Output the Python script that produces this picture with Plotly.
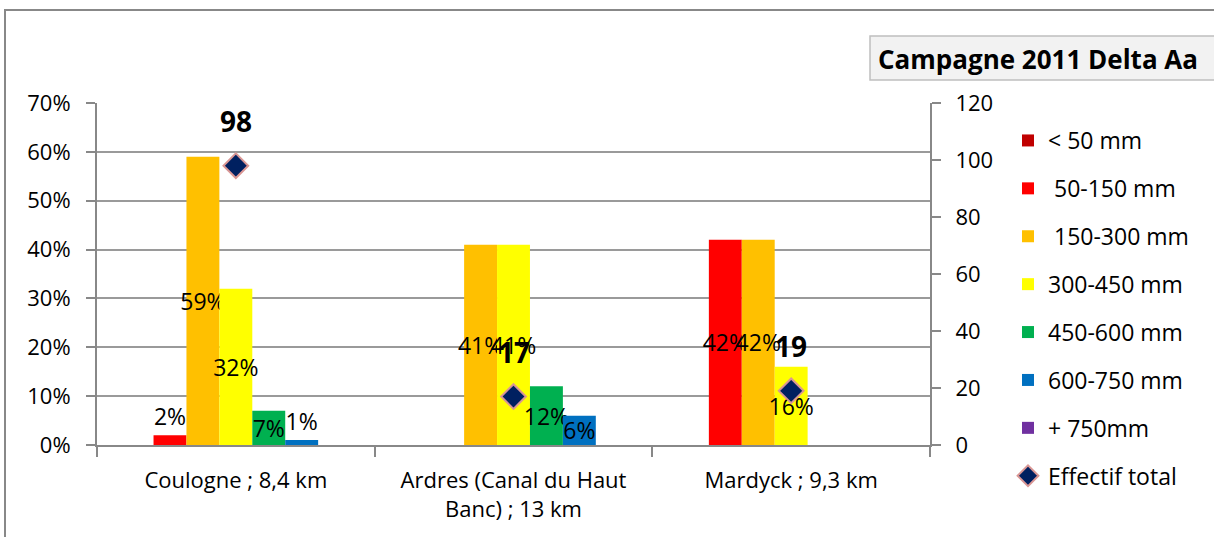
import plotly.graph_objects as go

categories = ["Coulogne ; 8,4 km", "Ardres (Canal du Haut<br>Banc) ; 13 km", "Mardyck ; 9,3 km"]
series_names = ["< 50 mm", "\u00a050-150 mm", "\u00a0150-300 mm", "300-450 mm", "450-600 mm", "600-750 mm", "+ 750mm"]
series_colors = ["#C00000", "#FF0000", "#FFC000", "#FFFF00", "#00B050", "#0070C0", "#7030A0"]
lt50 = [0.0, 0.0, 0.0]
s50_150 = [0.02, 0.0, 0.42]
s150_300 = [0.59, 0.41, 0.42]
s300_450 = [0.32, 0.41, 0.16]
s450_600 = [0.07, 0.12, 0.0]
s600_750 = [0.01, 0.06, 0.0]
gt750 = [0.0, 0.0, 0.0]
effectif_total = [98, 17, 19]

series_values = [lt50, s50_150, s150_300, s300_450, s450_600, s600_750, gt750]

FONT = "Open Sans"
W, H = 1214, 537
L, R, T, B = 97, 930, 103, 445

fig = go.Figure()
for i, (name, col, vals) in enumerate(zip(series_names, series_colors, series_values)):
    texts = [f"{round(v*100)}%" if v > 0 else "" for v in vals]
    pos = ["inside" if v >= 0.05 else "outside" for v in vals]
    fig.add_trace(go.Bar(
        x=categories, y=vals, name=name, marker=dict(color=col, line=dict(width=0)),
        text=texts, textposition=pos, textangle=0, insidetextanchor="middle",
        constraintext="none", cliponaxis=False,
        textfont=dict(family=FONT, size=23, color="black"),
        legendgroup=f"g{i}", hoverinfo="skip",
    ))

fig.add_trace(go.Scatter(
    x=categories, y=effectif_total, name="Effectif total", mode="markers", yaxis="y2",
    marker=dict(symbol="diamond", size=19, color="#002060", line=dict(color="#D99694", width=2)),
    legendgroup="g7", cliponaxis=False,
))

for c, v in zip(categories, effectif_total):
    fig.add_annotation(x=c, y=v, yref="y2", text=f"<b>{v}</b>", showarrow=False,
                       yshift=45, font=dict(family=FONT, size=28, color="black"))

def px_x(p):
    return (p - L) / (R - L)

def px_y(p):
    return (B - p) / (B - T)

# outer chart border
fig.add_shape(type="rect", xref="paper", yref="paper",
              x0=px_x(5), x1=px_x(1300), y0=px_y(10), y1=px_y(600),
              line=dict(color="#888888", width=2), fillcolor="rgba(0,0,0,0)", layer="below")
# title box
fig.add_shape(type="rect", xref="paper", yref="paper",
              x0=px_x(870), x1=px_x(1230), y0=px_y(36), y1=px_y(80),
              line=dict(color="#BFBFBF", width=1.5), fillcolor="#F2F2F2")
fig.add_annotation(xref="paper", yref="paper", x=px_x(876), y=px_y(59), xanchor="left", yanchor="middle",
                   text="<b>Campagne 2011 Delta Aa</b>", showarrow=False,
                   font=dict(family=FONT, size=26, color="black"))

axis_col = "#888888"
fig.update_layout(
    width=W, height=H,
    margin=dict(l=L, r=W - R, t=T, b=H - B, autoexpand=False),
    paper_bgcolor="white", plot_bgcolor="white",
    barmode="group", bargap=0.17, bargroupgap=0,
    font=dict(family=FONT, size=23, color="black"),
    showlegend=True,
    legend=dict(x=px_x(1008), y=px_y(119), xanchor="left", yanchor="top",
                font=dict(family=FONT, size=23), traceorder="grouped", tracegroupgap=15,
                itemwidth=30, bgcolor="rgba(0,0,0,0)", maxheight=600),
    xaxis=dict(type="category", showline=True, linecolor=axis_col, linewidth=2,
               ticks="outside", tickson="boundaries", ticklen=10, tickcolor=axis_col, tickwidth=1.5,
               showgrid=False, ticklabelstandoff=15, tickfont=dict(family=FONT, size=22)),
    yaxis=dict(range=[0, 0.7], dtick=0.1, tickformat=".0%", showline=True, linecolor=axis_col, linewidth=2,
               ticks="outside", ticklen=9, tickcolor=axis_col, tickwidth=1.5,
               showgrid=True, gridcolor="#9A9A9A", gridwidth=2, zeroline=False,
               ticklabelstandoff=11, tickfont=dict(family=FONT, size=22)),
    yaxis2=dict(range=[0, 120], dtick=20, overlaying="y", side="right", showline=True,
                linecolor=axis_col, linewidth=2, ticks="outside", ticklen=9, tickcolor=axis_col, tickwidth=1.5,
                showgrid=False, zeroline=False, ticklabelstandoff=10, tickfont=dict(family=FONT, size=22)),
)

fig.write_html("out.html", config={"displayModeBar": False},
               post_script="document.body.style.margin='0';document.body.style.overflow='hidden';")
